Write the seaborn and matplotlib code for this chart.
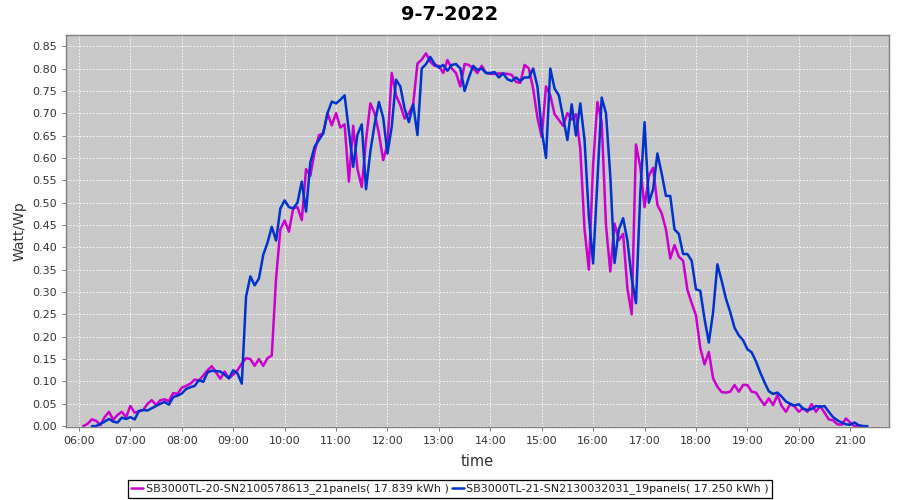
import numpy as np
import pandas as pd
import matplotlib
matplotlib.use("Agg")
import matplotlib.pyplot as plt
import seaborn as sns

nan = np.nan

title = "9-7-2022"
series_names = [
    "SB3000TL-20-SN2100578613_21panels( 17.839 kWh )",
    "SB3000TL-21-SN2130032031_19panels( 17.250 kWh )",
]
series_colors = ["#CC00CC", "#0033CC"]

# 5-minute samples starting 06:00 (one row per hour)
sb20 = [
    nan, 0.000, 0.005, 0.015, 0.012, 0.002, 0.020, 0.032, 0.014, 0.025, 0.032, 0.020,  # 06
    0.045, 0.030, 0.033, 0.036, 0.050, 0.058, 0.047, 0.058, 0.060, 0.056, 0.074, 0.072,  # 07
    0.086, 0.090, 0.095, 0.104, 0.102, 0.113, 0.125, 0.134, 0.120, 0.106, 0.122, 0.107,  # 08
    0.115, 0.125, 0.140, 0.152, 0.150, 0.135, 0.150, 0.135, 0.152, 0.158, 0.330, 0.440,  # 09
    0.460, 0.435, 0.487, 0.490, 0.461, 0.575, 0.560, 0.614, 0.651, 0.655, 0.700, 0.673,  # 10
    0.700, 0.668, 0.675, 0.547, 0.672, 0.575, 0.535, 0.640, 0.722, 0.700, 0.655, 0.595,  # 11
    0.630, 0.790, 0.740, 0.718, 0.688, 0.700, 0.720, 0.811, 0.820, 0.834, 0.815, 0.806,  # 12
    0.806, 0.790, 0.819, 0.800, 0.790, 0.760, 0.810, 0.808, 0.800, 0.790, 0.806, 0.790,  # 13
    0.788, 0.788, 0.789, 0.789, 0.788, 0.786, 0.770, 0.768, 0.808, 0.800, 0.755, 0.690,  # 14
    0.647, 0.760, 0.740, 0.698, 0.685, 0.672, 0.700, 0.686, 0.698, 0.620, 0.440, 0.350,  # 15
    0.585, 0.725, 0.680, 0.450, 0.346, 0.453, 0.416, 0.430, 0.308, 0.250, 0.630, 0.580,  # 16
    0.490, 0.560, 0.578, 0.495, 0.476, 0.440, 0.375, 0.405, 0.379, 0.370, 0.305, 0.275,  # 17
    0.248, 0.175, 0.138, 0.166, 0.107, 0.088, 0.076, 0.075, 0.077, 0.092, 0.077, 0.092,  # 18
    0.092, 0.077, 0.075, 0.060, 0.047, 0.062, 0.047, 0.069, 0.045, 0.032, 0.049, 0.044,  # 19
    0.032, 0.040, 0.032, 0.049, 0.032, 0.045, 0.030, 0.015, 0.013, 0.004, 0.003, 0.017,  # 20
    0.008, 0.000, 0.000, 0.000, nan,                                                      # 21
]

sb21 = [
    nan, nan, nan, 0.000, 0.000, 0.005, 0.010, 0.016, 0.010, 0.008, 0.019, 0.016,        # 06
    0.020, 0.015, 0.034, 0.036, 0.035, 0.040, 0.045, 0.050, 0.054, 0.048, 0.065, 0.068,  # 07
    0.073, 0.083, 0.087, 0.090, 0.103, 0.099, 0.120, 0.124, 0.123, 0.122, 0.115, 0.107,  # 08
    0.125, 0.118, 0.095, 0.290, 0.335, 0.315, 0.330, 0.383, 0.410, 0.446, 0.415, 0.487,  # 09
    0.505, 0.490, 0.487, 0.500, 0.547, 0.480, 0.590, 0.625, 0.640, 0.655, 0.700, 0.726,  # 10
    0.722, 0.730, 0.740, 0.660, 0.580, 0.652, 0.675, 0.530, 0.614, 0.675, 0.725, 0.690,  # 11
    0.610, 0.670, 0.775, 0.760, 0.710, 0.680, 0.720, 0.651, 0.800, 0.810, 0.826, 0.810,  # 12
    0.802, 0.808, 0.795, 0.808, 0.810, 0.800, 0.750, 0.780, 0.806, 0.797, 0.800, 0.790,  # 13
    0.790, 0.792, 0.780, 0.789, 0.776, 0.772, 0.780, 0.772, 0.780, 0.780, 0.800, 0.760,  # 14
    0.662, 0.600, 0.800, 0.755, 0.740, 0.690, 0.640, 0.720, 0.650, 0.722, 0.640, 0.470,  # 15
    0.364, 0.550, 0.735, 0.700, 0.560, 0.365, 0.440, 0.465, 0.415, 0.330, 0.275, 0.520,  # 16
    0.680, 0.500, 0.530, 0.610, 0.565, 0.515, 0.515, 0.440, 0.430, 0.385, 0.385, 0.370,  # 17
    0.306, 0.303, 0.240, 0.187, 0.255, 0.362, 0.325, 0.285, 0.255, 0.220, 0.203, 0.192,  # 18
    0.172, 0.165, 0.145, 0.120, 0.098, 0.078, 0.072, 0.075, 0.066, 0.055, 0.050, 0.046,  # 19
    0.049, 0.039, 0.036, 0.038, 0.045, 0.043, 0.045, 0.032, 0.020, 0.013, 0.008, 0.004,  # 20
    0.003, 0.008, 0.002, 0.000, 0.000,                                                    # 21
]

hour_labels = ["06:00", "07:00", "08:00", "09:00", "10:00", "11:00", "12:00", "13:00",
               "14:00", "15:00", "16:00", "17:00", "18:00", "19:00", "20:00", "21:00"]
y_ticks = [0.00, 0.05, 0.10, 0.15, 0.20, 0.25, 0.30, 0.35, 0.40, 0.45,
           0.50, 0.55, 0.60, 0.65, 0.70, 0.75, 0.80, 0.85]

day = "2022-07-09"
times = pd.date_range(f"{day} 06:00", periods=len(sb20), freq="5min")
wide = pd.DataFrame({"time": times, series_names[0]: sb20, series_names[1]: sb21})
df = wide.melt(id_vars="time", var_name="series", value_name="Watt/Wp").dropna()

sns.set_style("ticks", {"axes.facecolor": "#C9C9C9"})
plt.rcParams["font.family"] = ["DejaVu Sans"]

fig = plt.figure(figsize=(9, 5), dpi=100)
fig.patch.set_facecolor("white")
ax = fig.add_axes([0.0733, 0.146, 0.9147, 0.784])

sns.lineplot(data=df, x="time", y="Watt/Wp", hue="series", hue_order=series_names,
             palette=series_colors, linewidth=1.8, estimator=None, sort=True,
             legend=False, ax=ax)

ax.set_xlim(pd.Timestamp(f"{day} 05:44:50"), pd.Timestamp(f"{day} 21:45:30"))
ax.set_ylim(-0.002, 0.875)
ax.set_xticks([pd.Timestamp(f"{day} {h}") for h in hour_labels])
ax.set_xticklabels(hour_labels)
ax.set_yticks(y_ticks)
ax.set_yticklabels([f"{v:.2f}" for v in y_ticks])
ax.tick_params(axis="both", labelsize=8, colors="#666666", length=3, width=0.6,
               labelcolor="#333333")

ax.grid(True, color="white", linestyle=(0, (2, 2)), linewidth=0.6)
ax.set_axisbelow(True)
for s in ax.spines.values():
    s.set_color("#808080")
    s.set_linewidth(1.0)

ax.set_xlabel("time", fontsize=10.5, color="#333333", labelpad=6)
ax.set_ylabel("Watt/Wp", fontsize=10, color="#333333", labelpad=4)
fig.suptitle(title, fontsize=14, fontweight="bold", color="black", y=0.99)

handles = ax.get_lines()[:2]
leg = fig.legend(handles, series_names, loc="lower center", bbox_to_anchor=(0.5, 0.0),
                 ncol=2, frameon=True, fancybox=False, edgecolor="black",
                 facecolor="white", framealpha=1.0, fontsize=8,
                 handlelength=1.1, handletextpad=0.2, columnspacing=0.3,
                 borderpad=0.3, borderaxespad=0.2)
leg.get_frame().set_linewidth(0.9)
for t in leg.get_texts():
    t.set_color("#222222")

fig.savefig("out.png", dpi=100, facecolor="white")
